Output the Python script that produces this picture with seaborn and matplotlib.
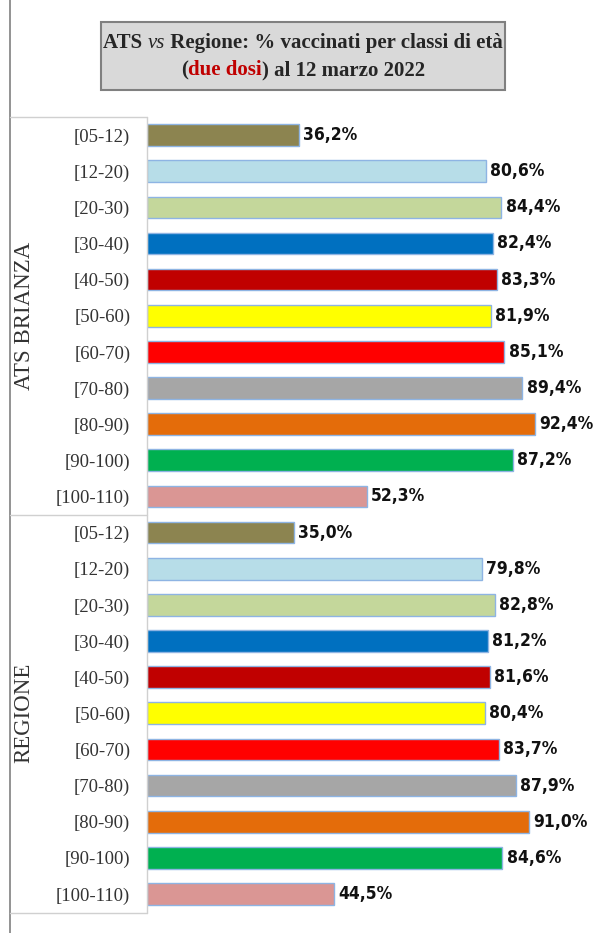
import matplotlib
matplotlib.use("Agg")
import matplotlib.pyplot as plt
import seaborn as sns
import pandas as pd
from matplotlib.lines import Line2D
from matplotlib.patches import Rectangle
from matplotlib import font_manager

bands = ["[05-12)", "[12-20)", "[20-30)", "[30-40)", "[40-50)", "[50-60)",
         "[60-70)", "[70-80)", "[80-90)", "[90-100)", "[100-110)"]
groups = ["ATS BRIANZA", "REGIONE"]
ats_values = [36.2, 80.6, 84.4, 82.4, 83.3, 81.9, 85.1, 89.4, 92.4, 87.2, 52.3]
reg_values = [35.0, 79.8, 82.8, 81.2, 81.6, 80.4, 83.7, 87.9, 91.0, 84.6, 44.5]
band_colors = ["#8c8450", "#b7dde8", "#c4d79b", "#0070c0", "#c00000", "#ffff00",
               "#ff0000", "#a6a6a6", "#e46c0a", "#00b050", "#da9694"]

rows = []
for g, vals in zip(groups, [ats_values, reg_values]):
    for b, v in zip(bands, vals):
        rows.append({"key": g + " " + b, "band": b, "group": g, "value": v})
df = pd.DataFrame(rows)
order = list(df["key"])

sns.set_theme(style="white")
plt.rcParams["font.family"] = ["Liberation Serif", "DejaVu Serif"]

cond = None
for f in font_manager.fontManager.ttflist:
    if "condensed" in str(f.stretch).lower() or "Condensed" in f.name or "Narrow" in f.name:
        if f.weight in ("bold", 700) or (isinstance(f.weight, int) and f.weight >= 600):
            cond = f.fname
            break

W, H = 594, 933
fig = plt.figure(figsize=(W / 100, H / 100), dpi=100)
ax = fig.add_axes([147 / W, 1 - 912 / H, 420 / W, (912 - 117) / H])

sns.barplot(data=df, y="key", x="value", hue="band", order=order,
            hue_order=bands, palette=band_colors, dodge=False, legend=False,
            saturation=1, width=0.6, edgecolor="#8eb4e3", linewidth=1.0,
            orient="h", ax=ax)
ax.set_xlim(0, 100)
ax.set_ylim(len(order) - 0.5, -0.5)
ax.set_xlabel("")
ax.set_ylabel("")
ax.set_xticks([])
ax.set_yticks(range(len(order)))
ax.set_yticklabels(df["band"], fontsize=13.5, color="#333333")
ax.tick_params(axis="y", length=0, pad=12)
for s in ax.spines.values():
    s.set_visible(False)

if cond:
    vprop = font_manager.FontProperties(fname=cond, size=12.5)
else:
    vprop = font_manager.FontProperties(family=["Liberation Sans", "DejaVu Sans"],
                                        weight="bold", size=12)
for i, v in enumerate(df["value"]):
    ax.text(v + 1.0, i, f"{v:.1f}%".replace(".", ","), va="center", ha="left",
            fontproperties=vprop, color="#111111")

def fx(px):
    return px / W
def fy(py):
    return 1 - py / H
lc = "#d0d0d0"
fig.add_artist(Line2D([fx(10), fx(10)], [fy(0), fy(933)], color="#808080", lw=1.2))
fig.add_artist(Line2D([fx(10), fx(147)], [fy(117), fy(117)], color=lc, lw=1))
fig.add_artist(Line2D([fx(10), fx(147)], [fy(515), fy(515)], color=lc, lw=1))
fig.add_artist(Line2D([fx(10), fx(147)], [fy(913), fy(913)], color=lc, lw=1))
fig.add_artist(Line2D([fx(147), fx(147)], [fy(117), fy(913)], color=lc, lw=1))

fig.text(fx(24), fy(316), groups[0], rotation=90, ha="center", va="center",
         fontsize=16.5, color="#333333")
fig.text(fx(24), fy(713), groups[1], rotation=90, ha="center", va="center",
         fontsize=16.5, color="#333333")

fig.add_artist(Rectangle((fx(101), fy(90)), (505 - 101) / W, (90 - 22) / H,
                         facecolor="#d9d9d9", edgecolor="#808080", lw=1.5,
                         transform=fig.transFigure))

fig.canvas.draw()
renderer = fig.canvas.get_renderer()

def line_of_pieces(pieces, ycenter_px):
    arts = []
    for t, kw in pieces:
        a = fig.text(0, fy(ycenter_px), t, va="center", ha="left", fontsize=15, **kw)
        arts.append(a)
    widths = [a.get_window_extent(renderer).width for a in arts]
    total = sum(widths)
    x = (W / 2 + 6) - total / 2
    for a, w in zip(arts, widths):
        a.set_x(x / W)
        x += w

line_of_pieces([("ATS ", dict(fontweight="bold")),
                ("vs", dict(fontstyle="italic")),
                (" Regione: % vaccinati per classi di età", dict(fontweight="bold"))], 43)
line_of_pieces([("(", dict(fontweight="bold")),
                ("due dosi", dict(fontweight="bold", color="#c00000")),
                (") al 12 marzo 2022", dict(fontweight="bold"))], 70)

fig.savefig("out.png", dpi=100)
